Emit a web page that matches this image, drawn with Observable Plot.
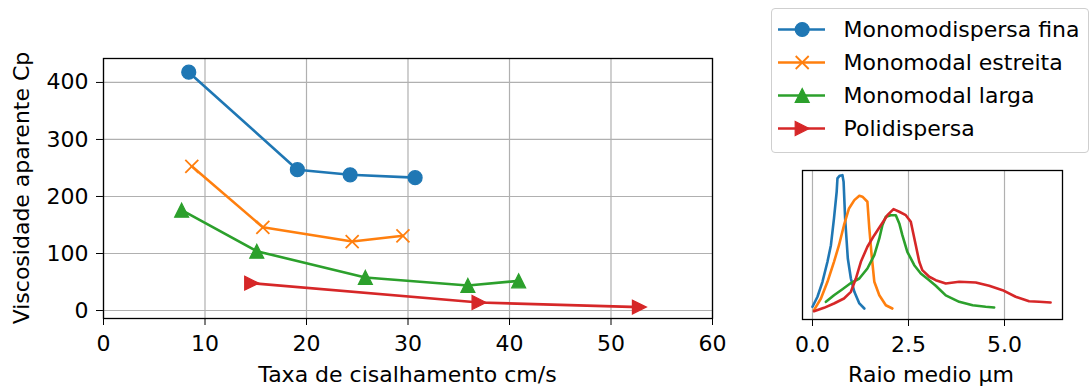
<!DOCTYPE html>
<html>
<head>
<meta charset="utf-8">
<script src="https://cdn.jsdelivr.net/npm/d3@7"></script>
<script src="https://cdn.jsdelivr.net/npm/@observablehq/plot@0.6"></script>
<style>
  html, body { margin: 0; padding: 0; background: #fff; }
  #wrap { position: relative; width: 1091px; height: 387px; overflow: hidden; font-family: "DejaVu Sans", sans-serif; color: #000; }
  .lbl { position: absolute; font-size: 22px; line-height: 1; white-space: nowrap; }
  #legend { position: absolute; left: 771px; top: 8px; width: 316px; height: 143px; border: 1px solid #cfcfcf; border-radius: 4px; background: #fff; }
  #legend svg { position: absolute; left: 0; top: 0; }
</style>
</head>
<body>
<div id="wrap">
  <div class="lbl" style="left:22px;top:188px;transform:translate(-50%,-50%) rotate(-90deg);">Viscosidade aparente Cp</div>
  <div class="lbl" style="left:407.5px;top:364px;transform:translateX(-50%);">Taxa de cisalhamento cm/s</div>
  <div class="lbl" style="left:931px;top:364px;transform:translateX(-50%);">Raio medio µm</div>
  <div id="legend"></div>
</div>
<script>
// ---- series ----
const seriesNames = ["Monomodispersa fina", "Monomodal estreita", "Monomodal larga", "Polidispersa"];
const seriesColors = ["#1f77b4", "#ff7f0e", "#2ca02c", "#d62728"];

// ---- main chart: viscosity vs shear rate ----
const fineRate = [8.4, 19.1, 24.3, 30.7];
const fineVisc = [418, 247, 238, 233];
const narrowRate = [8.7, 15.7, 24.5, 29.5];
const narrowVisc = [253, 146, 121, 131];
const broadRate = [7.7, 15.1, 25.8, 35.9, 40.9];
const broadVisc = [176, 104, 58, 44, 52];
const polyRate = [14.6, 37.0, 52.8];
const polyVisc = [48, 14, 6];

const xTicks = [0, 10, 20, 30, 40, 50, 60];
const yTicks = [0, 100, 200, 300, 400];

// ---- inset: particle size distributions ----
const fineRadius = [0.00, 0.13, 0.26, 0.39, 0.48, 0.56, 0.63, 0.65, 0.71, 0.78, 0.81, 0.85, 0.92, 1.00, 1.09, 1.22, 1.35];
const fineFreq = [4.2, 11.5, 22.4, 37.0, 49.1, 68.6, 88.1, 97.8, 99.8, 100.2, 95.4, 68.6, 39.4, 24.8, 15.1, 6.6, 2.9];
const narrowRadius = [0.04, 0.22, 0.39, 0.56, 0.69, 0.82, 0.95, 1.09, 1.22, 1.30, 1.43, 1.48, 1.54, 1.61, 1.74, 1.91, 2.08];
const narrowFreq = [1.7, 10.2, 22.4, 37.0, 49.1, 63.7, 75.9, 82.0, 85.2, 84.5, 80.8, 61.3, 41.8, 22.4, 12.6, 5.3, 2.9];
const broadRadius = [0.35, 0.56, 0.78, 1.00, 1.22, 1.43, 1.61, 1.74, 1.82, 1.91, 2.04, 2.17, 2.26, 2.34, 2.47, 2.65, 2.82, 3.04, 3.21, 3.47, 3.82, 4.17, 4.51, 4.73];
const broadFreq = [7.8, 12.6, 17.0, 21.5, 24.8, 32.1, 41.8, 54.0, 63.7, 69.8, 71.0, 71.0, 65.0, 56.4, 44.3, 34.5, 28.5, 23.6, 19.5, 12.5, 7.8, 5.3, 4.2, 3.7];
const polyRadius = [0.04, 0.30, 0.56, 0.82, 1.00, 1.13, 1.26, 1.43, 1.61, 1.78, 1.95, 2.11, 2.26, 2.43, 2.56, 2.69, 2.78, 2.86, 3.04, 3.21, 3.47, 3.82, 4.25, 4.60, 4.95, 5.29, 5.64, 5.90, 6.20];
const polyFreq = [0.9, 3.4, 6.6, 10.2, 15.1, 24.8, 37.0, 48.0, 56.4, 63.7, 71.0, 75.4, 73.5, 71.0, 66.2, 49.1, 37.0, 30.9, 26.1, 23.6, 21.2, 22.4, 21.9, 19.5, 16.3, 11.5, 8.2, 7.8, 7.3];
const insetTicks = [0, 2.5, 5.0];

// ---- marker shapes (matplotlib-like) ----
const rOf = size => Math.sqrt(size / Math.PI);
const markX = { draw(c, s) { const r = rOf(s); c.moveTo(-r, -r); c.lineTo(r, r); c.moveTo(r, -r); c.lineTo(-r, r); } };
const markTriUp = { draw(c, s) { const r = rOf(s); c.moveTo(0, -r); c.lineTo(r, r); c.lineTo(-r, r); c.closePath(); } };
const markTriRight = { draw(c, s) { const r = rOf(s); c.moveTo(r, 0); c.lineTo(-r, -r); c.lineTo(-r, r); c.closePath(); } };
const seriesSymbols = ["circle", markX, markTriUp, markTriRight];
const seriesFilled = [true, false, true, true];

const zip = (xs, ys) => xs.map((x, i) => ({x, y: ys[i]}));
const mainSeries = [zip(fineRate, fineVisc), zip(narrowRate, narrowVisc), zip(broadRate, broadVisc), zip(polyRate, polyVisc)];
const insetSeries = [zip(fineRadius, fineFreq), zip(narrowRadius, narrowFreq), zip(broadRadius, broadFreq), zip(polyRadius, polyFreq)];

const dotOpts = (i) => seriesFilled[i]
  ? {fill: seriesColors[i], stroke: seriesColors[i], strokeWidth: 1.2, symbol: seriesSymbols[i], r: 7}
  : {fill: "none", stroke: seriesColors[i], strokeWidth: 1.8, symbol: seriesSymbols[i], r: 6.5};

const gridStyle = {stroke: "#b0b0b0", strokeOpacity: 1, strokeWidth: 1.2};
const lineW = 2.6;

const main = Plot.plot({
  width: 740, height: 387,
  marginLeft: 103, marginRight: 28, marginTop: 58, marginBottom: 69,
  style: {fontFamily: "DejaVu Sans", fontSize: "22px", color: "#000", background: "transparent", overflow: "visible"},
  x: {domain: [0, 60], ticks: xTicks, tickSize: 7, tickPadding: 10, tickFormat: d3.format("d"), label: null},
  y: {domain: [-14, 442], ticks: yTicks, tickSize: 7, tickPadding: 8, tickFormat: d3.format("d"), label: null},
  marks: [
    Plot.ruleX(xTicks, gridStyle),
    Plot.ruleY(yTicks, gridStyle),
    ...mainSeries.flatMap((data, i) => [
      Plot.line(data, {x: "x", y: "y", stroke: seriesColors[i], strokeWidth: lineW}),
      Plot.dot(data, {x: "x", y: "y", ...dotOpts(i)})
    ]),
    Plot.frame({stroke: "#000", strokeWidth: 1.3})
  ]
});
main.style.position = "absolute";
main.style.left = "0px";
main.style.top = "0px";
document.getElementById("wrap").appendChild(main);

const inset = Plot.plot({
  width: 331, height: 227,
  marginLeft: 42, marginRight: 29, marginTop: 10, marginBottom: 68,
  style: {fontFamily: "DejaVu Sans", fontSize: "22px", color: "#000", background: "transparent", overflow: "visible"},
  x: {domain: [-0.26, 6.51], ticks: insetTicks, tickSize: 7, tickPadding: 10, tickFormat: d3.format(".1f"), label: null},
  y: {domain: [-5.1, 103.6], axis: null},
  marks: [
    Plot.ruleX(insetTicks, gridStyle),
    ...insetSeries.map((data, i) => Plot.line(data, {x: "x", y: "y", stroke: seriesColors[i], strokeWidth: lineW})),
    Plot.frame({stroke: "#000", strokeWidth: 1.3})
  ]
});
inset.style.position = "absolute";
inset.style.left = "760px";
inset.style.top = "160px";
document.getElementById("wrap").appendChild(inset);

const legend = Plot.plot({
  width: 316, height: 143, margin: 0,
  style: {fontFamily: "DejaVu Sans", fontSize: "22px", color: "#000", background: "transparent", overflow: "visible"},
  x: {domain: [0, 316], range: [0, 316], axis: null},
  y: {type: "point", domain: seriesNames, range: [19.3, 120.3], padding: 0, axis: null},
  marks: seriesNames.flatMap((name, i) => [
    Plot.ruleY([name], {x1: 6, x2: 53, stroke: seriesColors[i], strokeWidth: lineW}),
    Plot.dot([name], {x: () => 29.7, y: d => d, ...dotOpts(i)}),
    Plot.text([name], {x: () => 71, y: d => d, text: d => d, textAnchor: "start", fill: "#000", fontSize: 22})
  ])
});
document.getElementById("legend").appendChild(legend);
</script>
</body>
</html>
